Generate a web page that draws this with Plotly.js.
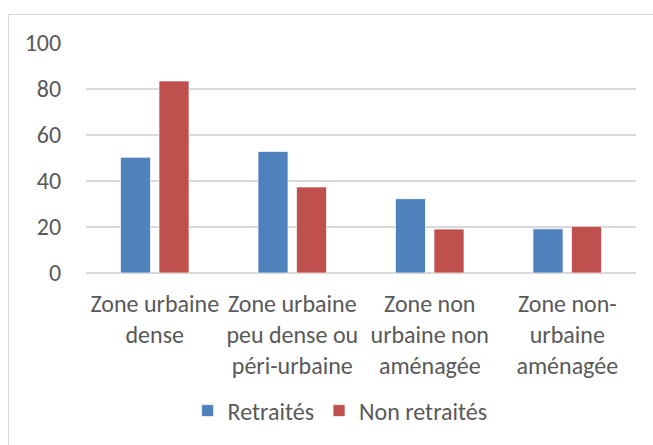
<!DOCTYPE html>
<html>
<head>
<meta charset="utf-8">
<script src="https://cdn.plot.ly/plotly-3.0.1.min.js"></script>
<style>
  html, body { margin: 0; padding: 0; background: #fff; }
  #wrap { position: relative; width: 653px; height: 445px; overflow: hidden; }
  #chart { position: absolute; left: 0; top: 0; width: 653px; height: 445px; }
  #frame { position: absolute; left: 8px; top: 14px; width: 700px; height: 500px; border: 1px solid #d9d9d9; pointer-events: none; }
</style>
</head>
<body>
<div id="wrap">
  <div id="chart"></div>
  <div id="frame"></div>
</div>
<script>
const categories = [
  "Zone urbaine<br>dense",
  "Zone urbaine<br>peu dense ou<br>péri-urbaine",
  "Zone non<br>urbaine non<br>aménagée",
  "Zone non-<br>urbaine<br>aménagée"
];
const seriesNames = ["Retraités", "Non retraités"];
const retraites = [50.3, 52.8, 32.3, 19.2];
const nonRetraites = [83.5, 37.4, 19.1, 20.3];
const yTicks = [0, 20, 40, 60, 80, 100];

const fontFam = "Carlito, Lato, 'Liberation Sans', sans-serif";
const txt = "#595959";

const traces = [
  { type: "bar", name: seriesNames[0], x: categories, y: retraites,
    marker: { color: "#4F81BD", line: { color: "rgba(255,255,255,0.7)", width: 1 } } },
  { type: "bar", name: seriesNames[1], x: categories, y: nonRetraites,
    marker: { color: "#C0504D", line: { color: "rgba(255,255,255,0.7)", width: 1 } } }
];

const layout = {
  width: 653, height: 445,
  margin: { l: 86, r: 17, t: 43, b: 172 },
  paper_bgcolor: "rgba(0,0,0,0)",
  plot_bgcolor: "rgba(0,0,0,0)",
  barmode: "group",
  bargap: 0.44,
  bargroupgap: 0.22,
  font: { family: fontFam, size: 24, color: txt },
  xaxis: {
    type: "category",
    showgrid: false, showline: false, zeroline: false,
    ticks: "outside", ticklen: 9, tickcolor: "rgba(0,0,0,0)",
    tickfont: { family: fontFam, size: 24, color: txt }
  },
  yaxis: {
    range: [0, 100],
    tickvals: yTicks,
    ticktext: yTicks.map(String),
    showgrid: true, gridcolor: "#d9d9d9", gridwidth: 2,
    zeroline: true, zerolinecolor: "#d9d9d9", zerolinewidth: 2,
    showline: false,
    ticks: "outside", ticklen: 19, tickcolor: "rgba(0,0,0,0)",
    tickfont: { family: fontFam, size: 24, color: txt }
  },
  showlegend: true,
  legend: {
    orientation: "h", x: 0.462, xanchor: "center", y: -0.6, yanchor: "middle",
    font: { family: fontFam, size: 24, color: txt },
    itemwidth: 30
  }
};

Plotly.newPlot("chart", traces, layout, { displayModeBar: false, staticPlot: true });
</script>
</body>
</html>
